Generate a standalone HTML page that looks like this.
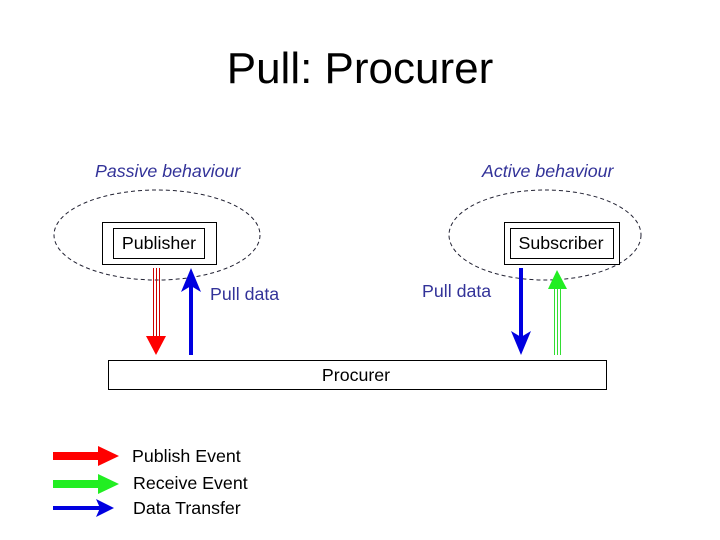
<!DOCTYPE html>
<html><head><style>body{margin:0;background:#fff}svg{display:block}</style></head><body>
<svg width="720" height="540" xmlns="http://www.w3.org/2000/svg" font-family="Liberation Sans, Arial, sans-serif">
<text x="360" y="83" font-size="44" text-anchor="middle">Pull: Procurer</text>
<text x="95" y="177" font-size="17.8" font-style="italic" fill="#333399">Passive behaviour</text>
<text x="482" y="177" font-size="17.8" font-style="italic" fill="#333399">Active behaviour</text>
<ellipse cx="157" cy="235" rx="103" ry="45" fill="none" stroke="#223" stroke-dasharray="4,3"/>
<ellipse cx="545" cy="235" rx="96" ry="45" fill="none" stroke="#223" stroke-dasharray="4,3"/>
<rect x="102.5" y="222.5" width="114" height="42" fill="#fff" stroke="#000"/>
<rect x="113.5" y="228.5" width="91" height="30" fill="none" stroke="#000"/>
<text x="159" y="249" font-size="17.8" text-anchor="middle">Publisher</text>
<rect x="504.5" y="222.5" width="115" height="42" fill="#fff" stroke="#000"/>
<rect x="510.5" y="228.5" width="103" height="30" fill="none" stroke="#000"/>
<text x="561" y="249" font-size="17.8" text-anchor="middle">Subscriber</text>
<g stroke="#cc0000" stroke-width="1"><line x1="153.5" y1="268" x2="153.5" y2="340"/><line x1="156.5" y1="268" x2="156.5" y2="340"/><line x1="159.5" y1="268" x2="159.5" y2="340"/></g>
<polygon points="146,336 166,336 156,355" fill="#f00"/>
<line x1="191" y1="355" x2="191" y2="285" stroke="#0000e0" stroke-width="4"/>
<polygon points="181,292 191,268 201,292 191,286" fill="#0000e0"/>
<text x="210" y="300" font-size="17.8" fill="#333399">Pull data</text>
<text x="422" y="297" font-size="17.8" fill="#333399">Pull data</text>
<line x1="521" y1="268" x2="521" y2="340" stroke="#0000e0" stroke-width="4"/>
<polygon points="511,331 521,355 531,331 521,337" fill="#0000e0"/>
<g stroke="#33dd33"><line x1="554.5" y1="355" x2="554.5" y2="285"/><line x1="557.5" y1="355" x2="557.5" y2="285"/><line x1="560.5" y1="355" x2="560.5" y2="285"/></g>
<polygon points="548,289 567,289 557,270" fill="#22ee22"/>
<rect x="108.5" y="360.5" width="498" height="29" fill="#fff" stroke="#000"/>
<text x="356" y="381" font-size="17.8" text-anchor="middle">Procurer</text>
<rect x="53" y="452" width="48" height="8" fill="#f00"/><polygon points="98,446 119,456 98,466" fill="#f00"/>
<rect x="53" y="480" width="48" height="8" fill="#22ee22"/><polygon points="98,474 119,484 98,494" fill="#22ee22"/>
<rect x="53" y="506" width="48" height="4" fill="#0000e0"/><polygon points="96,499 114,508 96,517 100,508" fill="#0000e0"/>
<text x="132" y="462" font-size="17.8">Publish Event</text>
<text x="133" y="489" font-size="17.8">Receive Event</text>
<text x="133" y="514" font-size="17.8">Data Transfer</text>
</svg>
</body></html>
